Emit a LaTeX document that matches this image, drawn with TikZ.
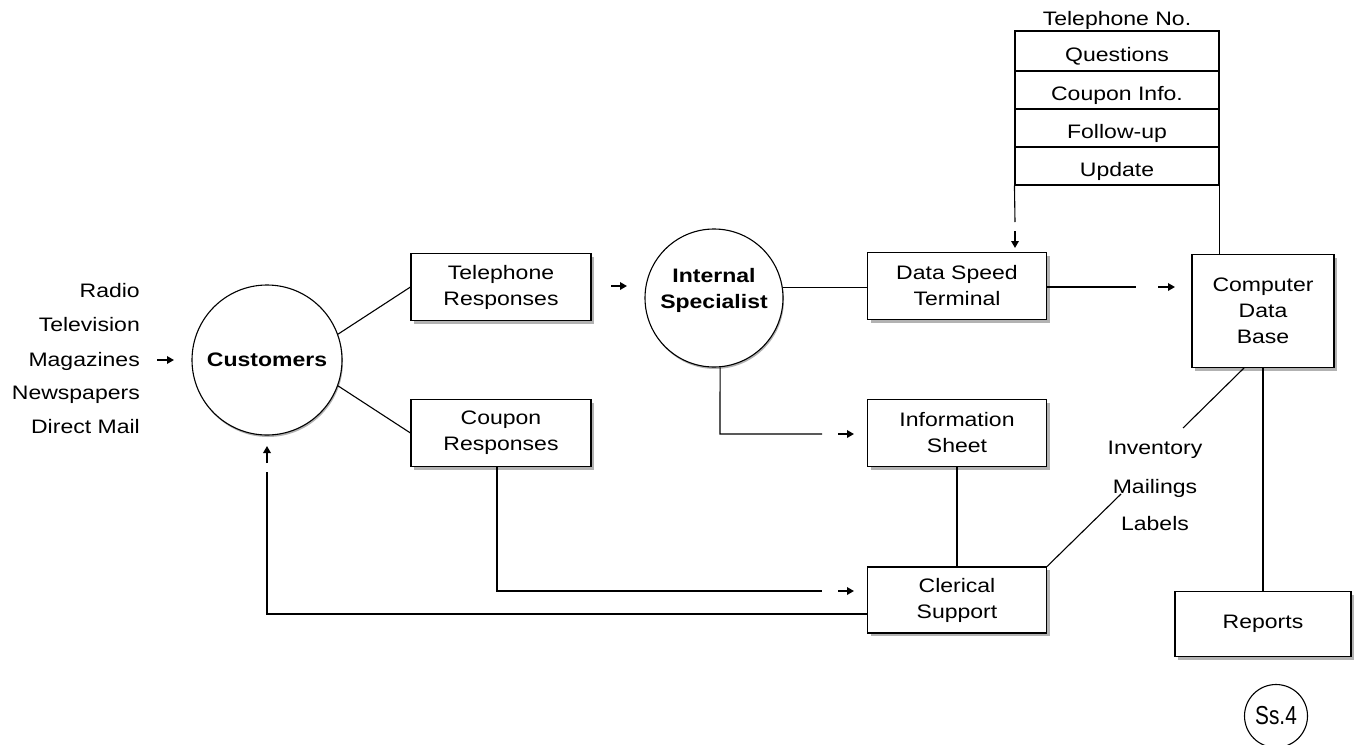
\documentclass[tikz,border=0pt]{standalone}
\usepackage{fontspec}
\setmainfont{Liberation Sans}[FakeStretch=1.18]
\newfontfamily\narrowf{Liberation Sans}[FakeStretch=0.8]
\usetikzlibrary{arrows.meta,shadows}
\begin{document}
\begin{tikzpicture}[x=1pt,y=-1pt,
  every node/.style={font=\fontsize{19.5}{26}\selectfont},
  shad/.style={drop shadow={shadow xshift=3pt, shadow yshift=-3pt, fill=black!30, opacity=1}},
  box/.style={draw, line width=1.1pt, fill=white, align=center, minimum width=180pt, minimum height=67pt, inner sep=0pt, shad},
  circ/.style={draw, circle, line width=1.1pt, fill=white, align=center, inner sep=0pt, drop shadow={shadow xshift=1pt, shadow yshift=-2pt, fill=black!30, opacity=1}},
  boldtxt/.style={font=\bfseries\fontsize{19.5}{26}\selectfont},
  rowbox/.style={draw, line width=1.1pt, minimum width=204pt, inner sep=0pt, text height=22pt, text depth=2pt},
  lbl/.style={inner sep=0pt},
  arr/.style={line width=1.7pt, -{Triangle[length=7pt,width=7.5pt]}},
  ln/.style={line width=1.1pt}
]
\useasboundingbox (0,0) rectangle (1364,744);

% left media list
\node[lbl, anchor=east] (radio) at (140,291) {Radio};
\node[lbl, anchor=east] (tv) at (140,325) {Television};
\node[lbl, anchor=east] (mag) at (140,361) {Magazines};
\node[lbl, anchor=east] (news) at (140,395) {Newspapers};
\node[lbl, anchor=east] (dm) at (140,427) {Direct Mail};

% main nodes
\node[circ, minimum size=150pt, boldtxt] (cust) at (267,360) {Customers};
\node[box] (tel) at (501,287) {Telephone\\Responses};
\node[box] (coup) at (501,433) {Coupon\\Responses};
\node[circ, minimum size=138pt] (spec) at (714,298) {};
\node[lbl, boldtxt, align=center] (spectxt) at (714,290) {Internal\\Specialist};
\node[box, minimum width=179pt] (dst) at (957,286) {Data Speed\\Terminal};
\node[box, minimum width=179pt] (info) at (957,433) {Information\\Sheet};
\node[box, minimum width=179pt, minimum height=66pt] (cler) at (957,600) {Clerical\\Support};
\node[box, minimum width=142pt, minimum height=113pt] (cdb) at (1263,311) {Computer\\Data\\Base};
\node[box, minimum width=176pt, minimum height=65pt] (rep) at (1263,624) {Reports};

% stack
\node[lbl] (telno) at (1117,20) {Telephone No.};
\node[rowbox, minimum height=40pt] (q) at (1117,51) {Questions};
\node[rowbox, minimum height=38pt] (ci) at (1117,90) {Coupon Info.};
\node[rowbox, minimum height=38pt] (fu) at (1117,128) {Follow-up};
\node[rowbox, minimum height=38pt] (up) at (1117,166) {Update};

% outputs
\node[lbl] (inv) at (1155,450) {Inventory};
\node[lbl] (mail) at (1155,488) {Mailings};
\node[lbl] (labels) at (1155,524) {Labels};

\node[draw, circle, minimum size=63pt, line width=1.1pt, inner sep=0pt, font=\narrowf\fontsize{26}{30}\selectfont] (ss) at (1276,716) {Ss.4};

% coordinates
\coordinate (m1) at (157,360); \coordinate (m2) at (174,360);
\coordinate (a1s) at (611,286); \coordinate (a1e) at (627,286);
\coordinate (c1) at (1136,287);
\coordinate (a2s) at (1158,287); \coordinate (a2e) at (1175,287);
\coordinate (c2) at (720,434); \coordinate (c3) at (822,434);
\coordinate (a3s) at (838,434); \coordinate (a3e) at (854,434);
\coordinate (c4) at (497,591); \coordinate (c5) at (822,591);
\coordinate (a4s) at (838,591); \coordinate (a4e) at (854,591);
\coordinate (c6) at (267,614); \coordinate (c7) at (267,472);
\coordinate (a5s) at (267,463); \coordinate (a5e) at (267,446);
\coordinate (lab1) at (1121,494);
\coordinate (c8) at (1244,368); \coordinate (c9) at (1183,428);
\coordinate (c10) at (1015,222);
\coordinate (a6s) at (1015,231); \coordinate (a6e) at (1015,248);

% connectors
\draw[arr] (m1) -- (m2);
\draw[ln] (cust.20) -- (tel.west);
\draw[ln] (cust.-20) -- (coup.west);
\draw[arr] (a1s) -- (a1e);
\draw[ln] (spec.9) -- (dst.west |- spec.9);
\draw[ln] (dst.east |- c1) -- (c1);
\draw[arr] (a2s) -- (a2e);
\draw[ln] (spec.-85) -- (c2) -- (c3);
\draw[arr] (a3s) -- (a3e);
\draw[ln] (coup.south -| c4) -- (c4) -- (c5);
\draw[arr] (a4s) -- (a4e);
\draw[ln] (cler.west |- c6) -- (c6) -- (c7);
\draw[arr] (a5s) -- (a5e);
\draw[ln] (info.south) -- (cler.north);
\draw[ln] (cler.north east) -- (lab1);
\draw[ln] (c8) -- (c9);
\draw[ln] (cdb.south) -- (rep.north);
\draw[ln] (up.south west) -- (c10);
\draw[arr] (a6s) -- (a6e);
\draw[ln] (up.south east) -- (up.south east |- cdb.north);
\end{tikzpicture}
\end{document}
